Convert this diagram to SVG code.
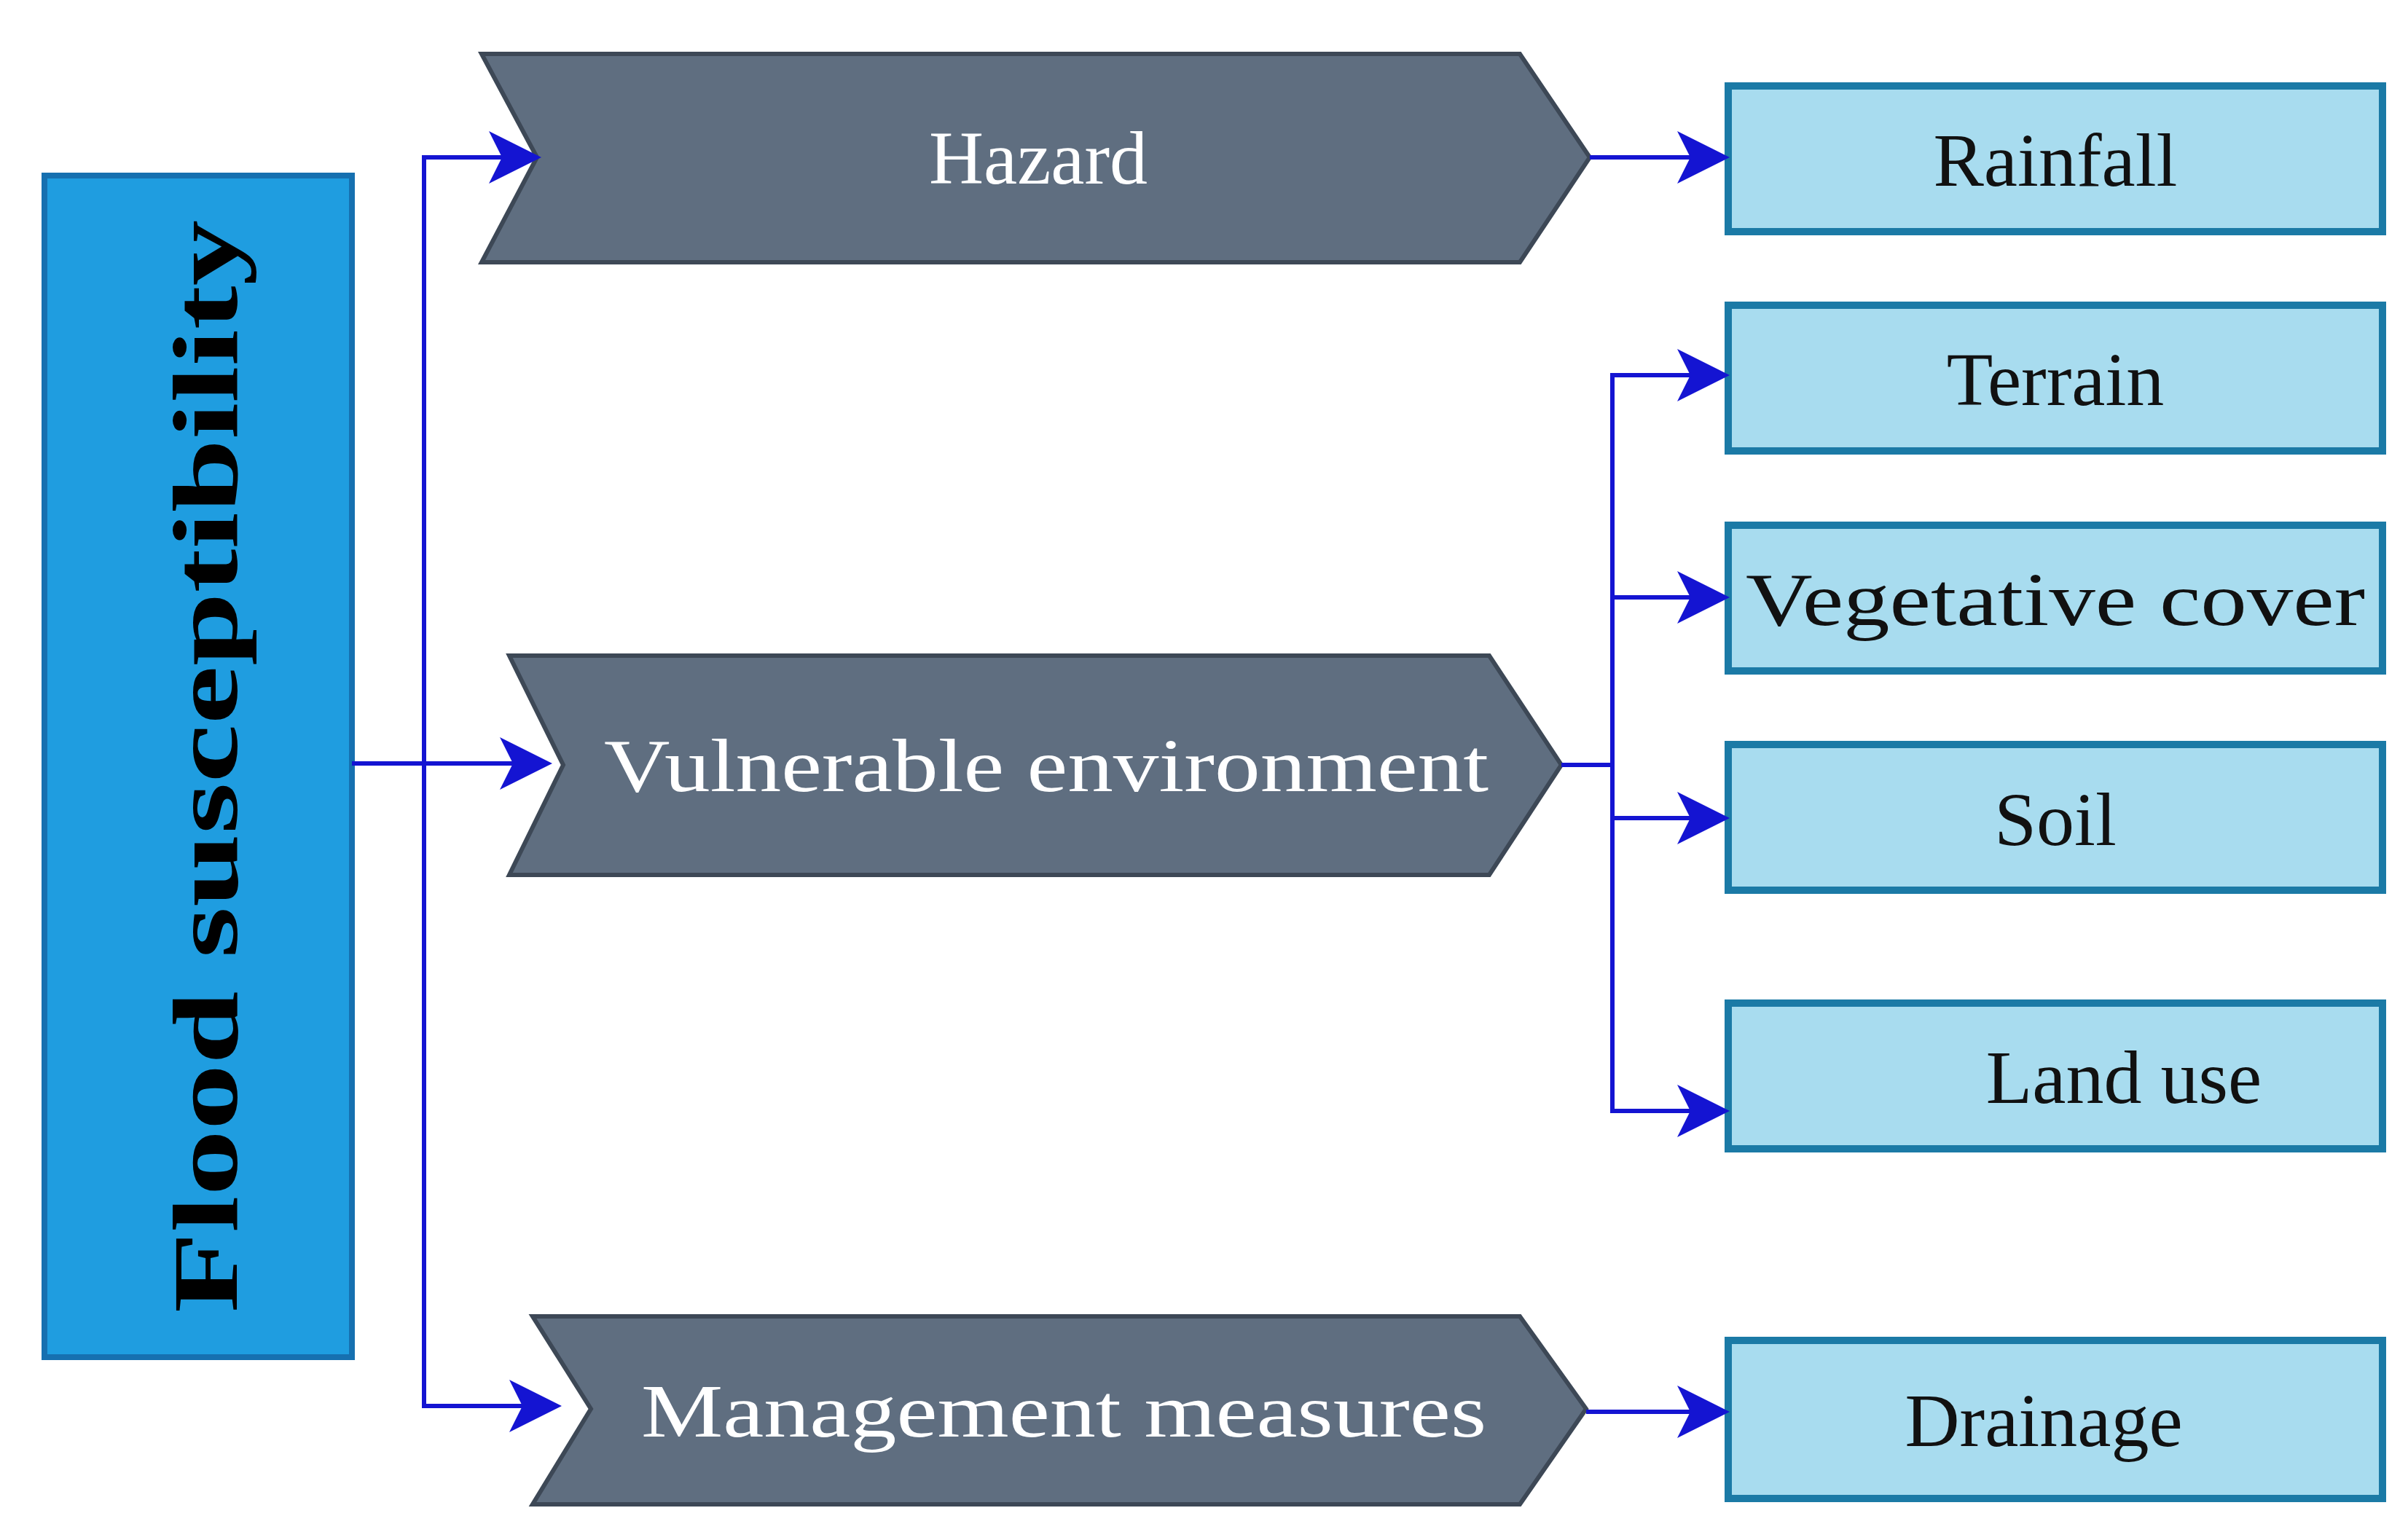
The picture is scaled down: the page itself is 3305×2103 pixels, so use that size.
<svg xmlns="http://www.w3.org/2000/svg" width="3305" height="2103" viewBox="0 0 3305 2103">
<style>
.chev{fill:#5f6e80;stroke:#3d4856;stroke-width:6}
.box{fill:#a8dcef;stroke:#1b7aa6;stroke-width:10}
.wt{font-family:"Liberation Serif",serif;font-size:104px;fill:#fff;text-anchor:middle}
.bt{font-family:"Liberation Serif",serif;font-size:104px;fill:#111;text-anchor:middle}
.ln{fill:none;stroke:#1414d2;stroke-width:6;marker-end:url(#ah)}
</style>
<defs><marker id="ah" markerWidth="12" markerHeight="12" refX="11" refY="6" orient="auto" markerUnits="strokeWidth"><path d="M0,0 L12,6 L0,12 L3,6 z" fill="#1414d2"/></marker></defs>
<rect width="3305" height="2103" fill="#fff"/>
<g id="flood"><rect x="61" y="241" width="422" height="1622" fill="#1f9de0" stroke="#1670b0" stroke-width="8"/>
<text transform="translate(325,1052) rotate(-90)" font-family="Liberation Serif,serif" font-weight="bold" font-size="128" text-anchor="middle" fill="#000" textLength="1500" lengthAdjust="spacingAndGlyphs">Flood susceptibility</text></g>
<g id="hazard"><polygon class="chev" points="661,74 2086,74 2182,216 2086,360 661,360 737,216"/><text class="wt" x="1425" y="252">Hazard</text></g>
<g id="vulnerable"><polygon class="chev" points="699,900 2044,900 2143,1050 2044,1201 699,1201 773,1050"/><text class="wt" x="1436" y="1086" textLength="1214" lengthAdjust="spacingAndGlyphs">Vulnerable environment</text></g>
<g id="management"><polygon class="chev" points="731,1807 2086,1807 2177,1934 2086,2065 731,2065 811,1934"/><text class="wt" x="1460" y="1972" textLength="1160" lengthAdjust="spacingAndGlyphs">Management measures</text></g>
<g id="rainfall"><rect class="box" x="2372" y="118" width="898" height="200"/><text class="bt" x="2821" y="255">Rainfall</text></g>
<g id="terrain"><rect class="box" x="2372" y="419" width="898" height="200"/><text class="bt" x="2821" y="556">Terrain</text></g>
<g id="veg"><rect class="box" x="2372" y="721" width="898" height="200"/><text class="bt" x="2821" y="858" textLength="850" lengthAdjust="spacingAndGlyphs">Vegetative cover</text></g>
<g id="soil"><rect class="box" x="2372" y="1022" width="898" height="200"/><text class="bt" x="2821" y="1160">Soil</text></g>
<g id="landuse"><rect class="box" x="2372" y="1377" width="898" height="200"/><text class="bt" x="2915" y="1514">Land use</text></g>
<g id="drainage"><rect class="box" x="2372" y="1840" width="898" height="217"/><text class="bt" x="2805" y="1985">Drainage</text></g>
<g id="connectors">
<path class="ln" d="M582,1048 L582,216 L737,216"/>
<path class="ln" d="M483,1048 L752,1048"/>
<path class="ln" d="M582,1048 L582,1930 L765,1930"/>
<path class="ln" d="M2182,216 L2368,216"/>
<path class="ln" d="M2143,1050 L2213,1050 L2213,515 L2368,515"/>
<path class="ln" d="M2213,820 L2368,820"/>
<path class="ln" d="M2213,1050 L2213,1123 L2368,1123"/>
<path class="ln" d="M2213,1123 L2213,1525 L2368,1525"/>
<path class="ln" d="M2177,1938 L2368,1938"/>
</g>
</svg>
